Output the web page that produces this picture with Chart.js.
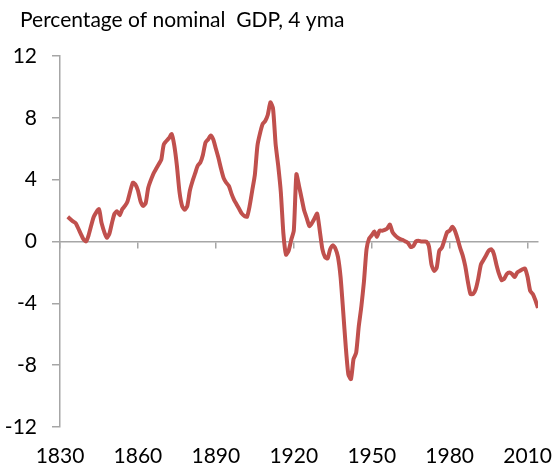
<!DOCTYPE html>
<html>
<head>
<meta charset="utf-8">
<script src="https://cdn.jsdelivr.net/npm/chart.js@4.4.1/dist/chart.umd.min.js"></script>
<style>
  body { margin: 0; background: #fff; }
  #wrap { width: 553px; height: 466px; }
</style>
</head>
<body>
<div id="wrap"><canvas id="myChart" width="553" height="466"></canvas></div>
<script>
// values, percent of nominal GDP (4 year moving average)
var years = [1833, 1835, 1836, 1838, 1839, 1840, 1841, 1843, 1845, 1846, 1848, 1849, 1850, 1851, 1852, 1853, 1854, 1855, 1856, 1858, 1859,
  1860, 1861, 1862, 1863, 1864, 1866, 1867, 1868, 1869, 1870, 1872, 1873, 1874, 1875, 1876, 1877, 1878, 1879,
  1880, 1881, 1882, 1883, 1884, 1885, 1886, 1887, 1888, 1889, 1890, 1891, 1892, 1893, 1894, 1895, 1896, 1897, 1898, 1899,
  1900, 1901, 1902, 1903, 1904, 1905, 1906, 1907, 1908, 1909, 1910, 1911, 1912, 1913, 1914, 1915, 1916, 1917, 1918, 1919,
  1920, 1921, 1922, 1923, 1924, 1925, 1926, 1927, 1928, 1929, 1930, 1931, 1932, 1933, 1934, 1935, 1936, 1937, 1938, 1939,
  1940, 1941, 1942, 1943, 1944, 1945, 1946, 1947, 1948, 1949, 1950, 1951, 1952, 1953, 1954, 1955, 1956, 1957, 1958, 1959,
  1960, 1961, 1962, 1963, 1964, 1965, 1966, 1967, 1968, 1969, 1970, 1971, 1972, 1973, 1974, 1975, 1976, 1977, 1978, 1979,
  1980, 1981, 1982, 1983, 1984, 1985, 1986, 1987, 1988, 1989, 1990, 1991, 1992, 1993, 1994, 1995, 1996, 1997, 1998, 1999,
  2000, 2001, 2002, 2003, 2004, 2005, 2006, 2007, 2008, 2009, 2010, 2011, 2012, 2013, 2014];
var balance = [1.6, 1.3, 1.2, 0.5, 0.15, 0.0, 0.4, 1.6, 2.1, 1.2, 0.25, 0.5, 1.2, 1.8, 1.95, 1.7, 2.1, 2.3, 2.6, 3.8, 3.7,
  3.3, 2.6, 2.3, 2.5, 3.5, 4.4, 4.7, 5.0, 5.3, 6.3, 6.7, 6.95, 6.2, 4.9, 3.2, 2.3, 2.05, 2.3,
  3.3, 3.9, 4.4, 4.9, 5.1, 5.6, 6.4, 6.6, 6.85, 6.6, 6.0, 5.4, 4.7, 4.1, 3.8, 3.6, 3.1, 2.7, 2.4, 2.1,
  1.8, 1.65, 1.6, 2.3, 3.3, 4.3, 6.2, 7.0, 7.6, 7.8, 8.2, 9.0, 8.6, 6.3, 4.9, 3.2, 0.5, -0.85, -0.6, 0.1,
  0.7, 4.35, 3.6, 2.8, 2.0, 1.5, 1.0, 1.2, 1.5, 1.8, 0.7, -0.5, -1.0, -1.1, -0.5, -0.25, -0.45, -1.0, -2.3, -4.5,
  -6.8, -8.6, -8.9, -7.6, -7.2, -5.5, -4.2, -2.6, -0.5, 0.2, 0.4, 0.65, 0.3, 0.7, 0.7, 0.75, 0.85, 1.1, 0.6, 0.4,
  0.25, 0.15, 0.1, 0.0, -0.1, -0.35, -0.3, 0.0, 0.05, 0.0, 0.0, 0.0, -0.3, -1.5, -1.9, -1.7, -0.6, -0.4, 0.1, 0.6,
  0.7, 0.95, 0.7, 0.2, -0.4, -0.9, -1.6, -2.6, -3.4, -3.4, -3.1, -2.4, -1.5, -1.2, -0.9, -0.6, -0.5, -0.8, -1.5, -2.1,
  -2.5, -2.4, -2.1, -2.0, -2.1, -2.3, -2.0, -1.9, -1.8, -1.75, -2.3, -3.2, -3.4, -3.8, -4.3];
var xTicks = [1830, 1860, 1890, 1920, 1950, 1980, 2010];
var yTicks = [-12, -8, -4, 0, 4, 8, 12];
var titleText = 'Percentage of nominal  GDP, 4 yma';

var axisGrey = '#a6a6a6';
var tickFont = { family: 'Lato', size: 21 };
var points = years.map(function (yr, i) { return { x: yr, y: balance[i] }; });

function setTicks(list) {
  return function (scale) {
    scale.ticks = list.map(function (v) { return { value: v }; });
  };
}

// title drawn top left, away from the axis box
var titlePlugin = {
  id: 'topTitle',
  afterDraw: function (chart) {
    var c = chart.ctx;
    c.save();
    c.font = '21px Lato';
    c.fillStyle = '#000';
    c.textBaseline = 'alphabetic';
    c.textAlign = 'left';
    c.fillText(titleText, 20, 27);
    c.restore();
  }
};

var ctx = document.getElementById('myChart').getContext('2d');
var myChart = new Chart(ctx, {
  type: 'line',
  data: {
    datasets: [{
      data: points,
      borderColor: '#c0504d',
      borderWidth: 4,
      pointRadius: 0,
      tension: 0.2,
      fill: false
    }]
  },
  options: {
    responsive: false,
    animation: false,
    layout: { padding: { left: 0, right: 15, top: 56, bottom: 0 } },
    plugins: {
      legend: { display: false },
      tooltip: { enabled: false },
      title: { display: false }
    },
    scales: {
      // axis line with tick marks sitting on zero
      x: {
        type: 'linear',
        position: { y: 0 },
        min: 1830,
        max: 2014,
        afterBuildTicks: setTicks(xTicks),
        ticks: { display: false },
        grid: { drawOnChartArea: false, tickLength: 6, color: axisGrey, lineWidth: 1.5 },
        border: { color: axisGrey, width: 1.5 }
      },
      // labels at the bottom
      xl: {
        type: 'linear',
        position: 'bottom',
        min: 1830,
        max: 2014,
        afterBuildTicks: setTicks(xTicks),
        afterFit: function (scale) {
          scale.height = 39;
          scale.paddingLeft = 0;
          scale.paddingRight = 0;
        },
        ticks: {
          padding: 17,
          color: '#000',
          maxRotation: 0,
          autoSkip: false,
          font: tickFont,
          callback: function (v) { return String(v); }
        },
        grid: { display: false, drawTicks: false },
        border: { display: false }
      },
      y: {
        min: -12,
        max: 12,
        afterBuildTicks: setTicks(yTicks),
        afterFit: function (scale) { scale.width = 60; },
        ticks: {
          padding: 15,
          color: '#000',
          font: tickFont
        },
        grid: { drawOnChartArea: false, tickLength: 8, color: axisGrey, lineWidth: 1.5 },
        border: { color: axisGrey, width: 1.5 }
      }
    }
  },
  plugins: [titlePlugin]
});
</script>
</body>
</html>
